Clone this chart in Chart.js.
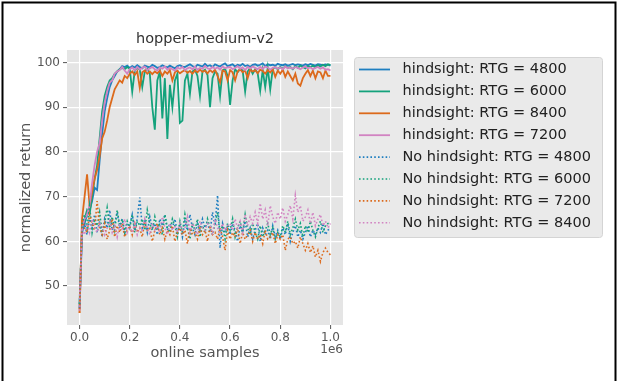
<!DOCTYPE html>
<html>
<head>
<meta charset="utf-8">
<script src="https://cdn.jsdelivr.net/npm/chart.js@4.4.1/dist/chart.umd.min.js"></script>
<style>
  html, body { margin: 0; padding: 0; background: #fff; }
  canvas { display: block; }
</style>
</head>
<body>
<canvas id="grafica" width="621" height="381"></canvas>
<script>
/* ==========================================================
   hopper-medium-v2 : retorno normalizado vs muestras online
========================================================== */

// muestras online (unidades de 1e6)
const muestras = [
  0, .01, .02, .03, .04, .05, .06, .07, .08, .09,
  .10, .11, .12, .13, .14, .15, .16, .17, .18, .19,
  .20, .21, .22, .23, .24, .25, .26, .27, .28, .29,
  .30, .31, .32, .33, .34, .35, .36, .37, .38, .39,
  .40, .41, .42, .43, .44, .45, .46, .47, .48, .49,
  .50, .51, .52, .53, .54, .55, .56, .57, .58, .59,
  .60, .61, .62, .63, .64, .65, .66, .67, .68, .69,
  .70, .71, .72, .73, .74, .75, .76, .77, .78, .79,
  .80, .81, .82, .83, .84, .85, .86, .87, .88, .89,
  .90, .91, .92, .93, .94, .95, .96, .97, .98, .99, 1.00
];

const ticksX = [0, 0.2, 0.4, 0.6, 0.8, 1.0];
const ticksY = [50, 60, 70, 80, 90, 100];

const etiquetas = [
  "hindsight: RTG = 4800",
  "hindsight: RTG = 6000",
  "hindsight: RTG = 8400",
  "hindsight: RTG = 7200",
  "No hindsight: RTG = 4800",
  "No hindsight: RTG = 6000",
  "No hindsight: RTG = 7200",
  "No hindsight: RTG = 8400"
];

const hs4800 = [
  45, 62, 64, 66, 67, 69, 72, 71.5, 78, 84,
  89, 92, 94.5, 96, 97, 98, 98.5, 99.2, 99, 99.3,
  98.8, 99.2, 98.9, 99.4, 99.0, 98.7, 99.3, 99.1, 98.9, 99.5,
  99.2, 98.8, 99.0, 99.4, 99.1, 98.9, 99.3, 99.0, 98.7, 99.2,
  99.4, 99.1, 99.0, 99.3, 99.6, 99.2, 98.9, 99.5, 99.3, 99.1,
  99.7, 99.2, 99.4, 99.0, 99.6, 99.3, 99.1, 99.5, 99.8, 99.2,
  99.4, 99.6, 99.1, 99.5, 99.3, 99.7, 99.2, 99.4, 99.0, 99.5,
  99.6, 99.3, 99.5, 99.8, 99.2, 99.6, 99.4, 99.5, 99.3, 99.7,
  99.5, 99.4, 99.6, 99.3, 99.5, 99.7, 99.4, 99.6, 99.5, 99.3,
  99.6, 99.4, 99.7, 99.5, 99.3, 99.6, 99.5, 99.4, 99.6, 99.5, 99.3
];

const hs6000 = [
  46, 63, 65, 67, 66, 70, 74, 77, 83, 89,
  92.5, 94.5, 96, 96.5, 97.5, 98, 98.5, 98.8, 98.5, 99.0,
  98.6, 93.5, 98.2, 98.8, 98.4, 94.5, 98.0, 98.6, 97.5, 90.0,
  85.0, 96.0, 98.0, 87.5, 96.5, 82.9, 95.0, 90.0, 96.0, 97.5,
  86.5, 87.0, 96.0, 97.5, 93.0, 98.0, 98.4, 97.0, 92.5, 98.0,
  98.4, 97.2, 90.0, 96.5, 98.0, 97.5, 92.5, 98.2, 98.6, 97.0,
  90.5, 96.0, 98.5, 97.8, 98.6, 98.2, 93.5, 98.0, 98.8, 97.5,
  98.5, 97.6, 93.7, 98.3, 94.5, 98.8, 94.0, 98.6, 99.0, 98.5,
  99.0, 98.6, 99.2, 98.8, 99.0, 98.5, 99.2, 98.8, 99.3, 99.0,
  98.7, 99.2, 99.0, 99.3, 98.9, 99.4, 99.1, 99.5, 99.2, 99.6, 99.4
];

const hs8400 = [
  44, 65, 70, 75, 68, 71, 74, 76, 79, 83,
  84.5, 87, 90, 92, 94, 95, 96, 95.5, 97, 96.5,
  97.5, 98.0, 97.2, 98.0, 94.3, 97.8, 98.2, 97.5, 98.0, 97.4,
  98.0, 97.6, 98.2, 97.0, 98.0, 97.5, 98.3, 96.0, 97.8, 98.2,
  97.6, 98.0, 98.3, 97.7, 98.1, 97.5, 98.2, 97.8, 98.4, 97.9,
  98.2, 97.6, 98.3, 97.8, 98.4, 97.0, 95.5, 98.2, 98.0, 96.0,
  98.3, 97.8, 96.0, 98.0, 98.5, 97.8, 98.2, 96.5, 98.4, 98.0,
  98.3, 97.6, 98.4, 98.1, 97.5, 98.3, 97.8, 98.5, 96.8, 98.2,
  97.5, 98.4, 96.8, 98.0, 97.0, 96.0, 97.5, 95.3, 94.8, 96.5,
  97.5, 98.3, 97.0, 98.2, 96.5, 98.0, 97.8, 96.5, 98.2, 97.0, 97.0
];

const hs7200 = [
  44.5, 63, 65, 66, 68, 73, 77, 80, 82, 87,
  91, 93.5, 95.5, 96, 97.5, 98, 98.3, 99, 98.2, 97.5,
  98.5, 98.9, 98.2, 99.0, 98.4, 98.8, 99.1, 98.3, 98.7, 99.0,
  98.5, 98.2, 98.9, 98.6, 99.1, 98.4, 98.8, 98.5, 98.2, 98.9,
  98.6, 99.0, 98.3, 98.7, 98.9, 98.5, 99.1, 98.4, 98.8, 98.6,
  99.2, 98.7, 98.5, 99.0, 98.6, 98.9, 98.4, 99.1, 98.7, 98.9,
  99.0, 98.5, 98.8, 99.2, 98.6, 98.9, 98.3, 99.0, 98.7, 99.1,
  98.8, 98.5, 99.0, 98.6, 99.1, 98.9, 98.4, 98.8, 99.0, 98.6,
  98.9, 98.5, 99.1, 98.7, 98.9, 98.6, 99.0, 98.8, 98.5, 98.9,
  99.1, 98.7, 98.9, 98.5, 98.8, 99.0, 98.6, 98.9, 98.4, 98.5, 98.2
];

const nh4800 = [
  45, 62, 64, 61.5, 65, 63, 66, 62, 64.5, 61,
  65, 63, 67, 62.5, 64, 66.5, 63, 65, 62, 64,
  63.5, 66, 62.5, 65, 69.8, 63, 64.5, 62, 65.5, 63,
  64, 61.5, 65, 63.5, 66, 62.5, 64, 63, 65, 62,
  63.5, 61, 64.5, 62.5, 66, 63, 61.5, 64, 62.5, 65,
  63, 64.5, 62, 66.5, 63.5, 70.3, 58.5, 64, 62, 63.5,
  61.5, 64, 62.5, 60, 63.5, 62, 64.5, 61, 63, 60.5,
  62.5, 64, 60, 63, 61.5, 62.5, 60.5, 63.5, 61, 62.5,
  60.5, 63, 61.5, 64, 60, 62, 63.5, 61, 62.5, 60.5,
  62, 63.5, 61, 62.5, 61.5, 63, 62, 64, 61.5, 62.5, 63
];

const nh6000 = [
  46, 64, 66, 63, 68, 62, 65, 63.5, 66.5, 62,
  64, 67.5, 63, 65.5, 62.5, 67, 63.5, 65, 62, 64.5,
  63, 66, 62, 64.5, 63.5, 65, 62.5, 67, 64, 62.5,
  65.5, 63, 64, 61.5, 66, 63, 62, 65, 63.5, 61,
  64.5, 62, 66, 63, 60.5, 64, 62.5, 65, 61, 63.5,
  62, 65, 63, 61.5, 64, 66.5, 62, 63.5, 60.5, 64,
  62.5, 65, 61, 63, 64.5, 62, 66, 63, 61.5, 64,
  62, 60.5, 63.5, 61, 62.5, 64, 61.5, 63, 60.5, 62,
  61, 63.5, 62, 64.5, 61.5, 63, 65, 62.5, 64, 61,
  63.5, 62, 64.5, 62.5, 61, 63, 64.5, 62, 63.5, 64, 64
];

const nh7200 = [
  44, 65, 63, 62, 66, 64, 62.5, 69, 63, 61.5,
  64, 60.5, 62.5, 65, 61, 63.5, 62, 64, 61, 62.5,
  63.5, 61.5, 64, 62, 63, 61, 64.5, 62.5, 63, 60,
  62.5, 64, 61.5, 63, 60.5, 62.5, 61.5, 63.5, 60, 62,
  63, 61.5, 62.5, 59.5, 63, 61.5, 62, 60.5, 63, 61.5,
  62.5, 60, 63.5, 61.5, 62, 60.5, 63, 61, 58, 62.5,
  60.5, 62, 61, 63, 59.5, 62, 60.5, 61.5, 62.5, 60,
  62, 60.5, 61.5, 59.5, 62.5, 60.5, 61, 62, 59.5, 61.5,
  60.5, 61.5, 58, 60.5, 61, 59.5, 60, 58.5, 61, 59.5,
  58, 59.5, 57.5, 59, 56.5, 58, 55.5, 57.5, 58.5, 57.5, 57
];

const nh8400 = [
  47, 63, 61.5, 64, 62, 65, 63, 62, 64, 63.5,
  61.5, 63, 64.5, 62, 63.5, 61, 64, 62.5, 65, 62,
  63.5, 62, 64, 61.5, 63, 62.5, 65, 63, 61.5, 64,
  62.5, 63.5, 62, 65.5, 63, 61.5, 64, 62.5, 63.5, 62,
  64, 62.5, 63, 65.5, 62, 64, 63, 61.5, 64.5, 63,
  62.5, 64, 63.5, 61.5, 65, 63, 62, 64, 62.5, 63.5,
  64, 62.5, 65, 63, 64.5, 62, 66, 63.5, 65.5, 64,
  66.5, 64, 68.5, 65, 67, 63.5, 68, 65.5, 64, 66.5,
  65, 67.5, 64.5, 66, 68, 65, 70.3, 66.5, 68, 64.5,
  65.5, 67, 64, 66.5, 63.5, 65, 66, 63.5, 64.5, 63, 64
];

const series = [hs4800, hs6000, hs8400, hs7200, nh4800, nh6000, nh7200, nh8400];
const colores = ["#1f7fc0", "#14a27c", "#dc6a1c", "#d283c2",
                 "#1f7fc0", "#14a27c", "#dc6a1c", "#d283c2"];

const FUENTE = "'DejaVu Sans', sans-serif";
const AREA = { left: 67, right: 343, top: 50, bottom: 325 };

/* ========================================================== */
const fondoYTextos = {
    id: "fondoYTextos",

    beforeDraw(chart) {
        const ctx = chart.ctx;
        const a = chart.chartArea;
        ctx.save();
        ctx.fillStyle = "#e5e5e5";
        ctx.fillRect(a.left, a.top, a.right - a.left, a.bottom - a.top);
        ctx.restore();
    },

    afterDraw(chart) {
        const ctx = chart.ctx;
        const a = chart.chartArea;
        const cx = (a.left + a.right) / 2;

        ctx.save();

        // titulo
        ctx.fillStyle = "#333";
        ctx.font = "14.5px " + FUENTE;
        ctx.textAlign = "center";
        ctx.textBaseline = "middle";
        ctx.fillText("hopper-medium-v2", cx, 39.5);

        // titulos de ejes
        ctx.fillStyle = "#555";
        ctx.fillText("online samples", cx, 353);

        ctx.save();
        ctx.translate(26, (a.top + a.bottom) / 2);
        ctx.rotate(-Math.PI / 2);
        ctx.fillText("normalized return", 0, 0);
        ctx.restore();

        ctx.font = "12px " + FUENTE;
        ctx.textAlign = "right";
        ctx.fillText("1e6", a.right, 350);

        // leyenda
        const lx = 354, ly = 57, lw = 248, lh = 180;
        ctx.beginPath();
        ctx.roundRect(lx + 0.5, ly + 0.5, lw, lh, 3);
        ctx.fillStyle = "rgba(229,229,229,0.8)";
        ctx.fill();
        ctx.strokeStyle = "#d4d4d4";
        ctx.lineWidth = 1;
        ctx.stroke();

        ctx.font = "14.5px " + FUENTE;
        ctx.textAlign = "left";
        ctx.textBaseline = "middle";

        chart.data.datasets.forEach((ds, i) => {
            const y = 69.5 + i * 21.9;
            ctx.beginPath();
            ctx.setLineDash(ds.borderDash || []);
            ctx.strokeStyle = ds.borderColor;
            ctx.lineWidth = ds.borderWidth;
            ctx.moveTo(359, y);
            ctx.lineTo(390, y);
            ctx.stroke();
            ctx.setLineDash([]);
            ctx.fillStyle = "#222";
            ctx.fillText(ds.label, 402.5, y);
        });

        // marco
        ctx.strokeStyle = "#000";
        ctx.lineWidth = 2;
        ctx.beginPath();
        ctx.moveTo(2.5, 381);
        ctx.lineTo(2.5, 2.5);
        ctx.lineTo(615.5, 2.5);
        ctx.lineTo(615.5, 381);
        ctx.stroke();

        ctx.restore();
    }
};

/* ========================================================== */
const datasets = series.map((s, i) => ({
    label: etiquetas[i],
    data: s.map((v, k) => ({ x: muestras[k], y: v })),
    borderColor: colores[i],
    borderWidth: i >= 4 ? 1.6 : 1.8,
    borderDash: i >= 4 ? [1.6, 2.2] : [],
    pointRadius: 0,
    tension: 0,
    fill: false,
    order: -i
}));

new Chart(document.getElementById("grafica"), {
    type: "line",
    data: { datasets },
    options: {
        responsive: false,
        animation: false,
        layout: {
            padding: { left: 0, top: AREA.top, right: 621 - AREA.right, bottom: 0 }
        },
        plugins: {
            legend: { display: false },
            tooltip: { enabled: false }
        },
        scales: {
            x: {
                type: "linear",
                min: -0.05,
                max: 1.05,
                afterBuildTicks: s => { s.ticks = ticksX.map(v => ({ value: v })); },
                afterFit: s => { s.height = 381 - AREA.bottom; },
                border: { display: false },
                grid: {
                    color: "#fff",
                    lineWidth: 1.2,
                    tickColor: "#555",
                    tickLength: 4,
                    tickWidth: 1
                },
                ticks: {
                    color: "#555",
                    font: { family: FUENTE, size: 12 },
                    padding: 2,
                    maxRotation: 0,
                    callback: v => v.toFixed(1)
                }
            },
            y: {
                min: 41.3,
                max: 102.8,
                afterBuildTicks: s => { s.ticks = ticksY.map(v => ({ value: v })); },
                afterFit: s => { s.width = AREA.left; },
                border: { display: false },
                grid: {
                    color: "#fff",
                    lineWidth: 1.2,
                    tickColor: "#555",
                    tickLength: 4,
                    tickWidth: 1
                },
                ticks: {
                    color: "#555",
                    font: { family: FUENTE, size: 12 },
                    padding: 3,
                    callback: v => String(v)
                }
            }
        }
    },
    plugins: [fondoYTextos]
});
</script>
</body>
</html>
